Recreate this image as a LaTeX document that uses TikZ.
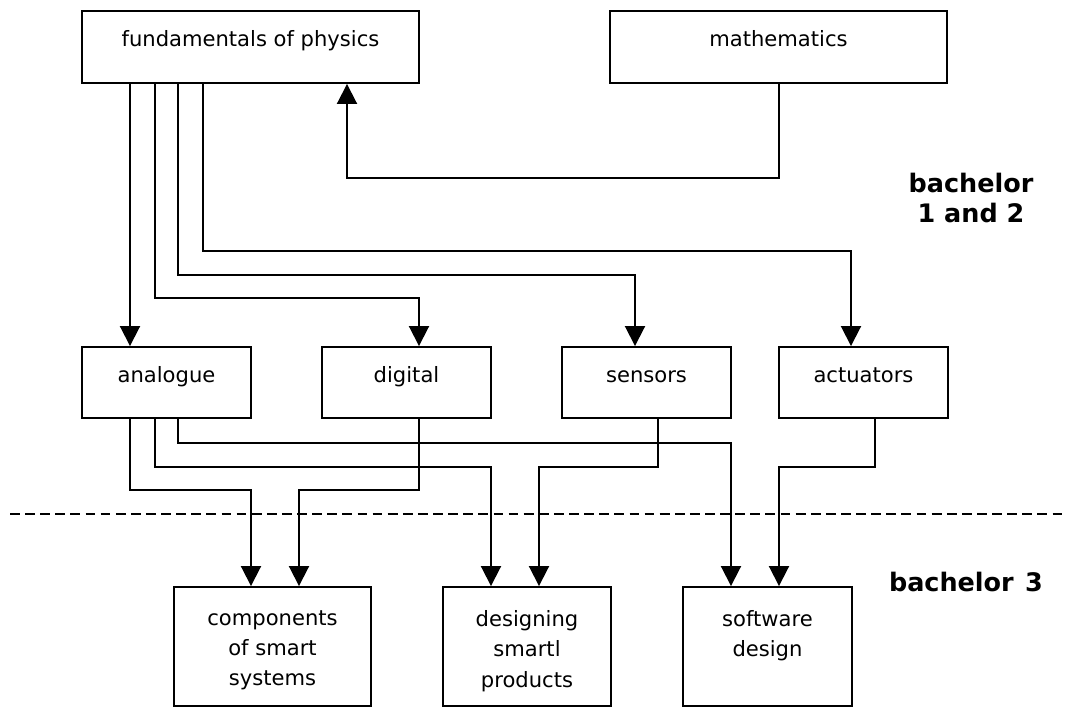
\documentclass[tikz,border=0pt]{standalone}
\usepackage{fontspec}
\setmainfont{DejaVu Sans}
\usepackage{tikz}
\usetikzlibrary{arrows.meta}

\begin{document}
\begin{tikzpicture}[x=0.02cm, y=-0.02cm,
		box/.style={draw, line width=1.1pt, inner sep=0pt},
		wide/.style={box, minimum width=6.74cm, minimum height=1.44cm},
		mid/.style={box, minimum width=3.38cm, minimum height=1.42cm},
		low/.style={box, minimum height=2.38cm},
		intext/.style={anchor=base, yshift=-0.73cm, inner sep=0pt, font=\fontsize{12}{17.3}\selectfont},
		lowtext/.style={anchor=north, yshift=-0.48cm, inner sep=0pt, align=center, font=\fontsize{12}{17.3}\selectfont},
		stage/.style={align=center, font=\bfseries\fontsize{14.5}{17.5}\selectfont},
		arr/.style={line width=1.1pt, -{Triangle[length=11.4pt,width=11.4pt]}}]
	\useasboundingbox (0,0) rectangle (1066,713);
	\node[wide, label={[intext]north:fundamentals of physics}] (phys) at (250.5,47) {};
	\node[wide, label={[intext]north:mathematics}] (math) at (778.5,47) {};
	\node[mid, label={[intext]north:analogue}] (ana) at (166.5,382.5) {};
	\node[mid, label={[intext]north:digital}] (dig) at (406.5,382.5) {};
	\node[mid, label={[intext]north:sensors}] (sens) at (646.5,382.5) {};
	\node[mid, label={[intext]north:actuators}] (act) at (863.5,382.5) {};
	\node[low, minimum width=3.94cm, label={[lowtext]north:components\\of smart\\systems}] (comp) at (272.5,646.5) {};
	\node[low, minimum width=3.36cm, label={[lowtext]north:designing\\smartl\\products}] (desg) at (527,646.5) {};
	\node[low, minimum width=3.38cm, label={[lowtext]north:software\\design}] (soft) at (767.5,646.5) {};
	\node[stage] (bach12) at (971,198) {bachelor\\1 and 2};
	\node[stage] (bach3) at (966,582) {bachelor\hspace{0.45em}3};
	\coordinate (cutL) at (10,514);
	\coordinate (cutR) at (1066,514);
	\draw[line width=1.1pt, dash pattern=on 5.6pt off 3pt] (cutL) -- (cutR);
	\draw[arr] (math.south -| 779,0) |- (347,178) -- (phys.south -| 347,0);
	\draw[arr] (phys.south -| 130,0) -- (ana.north -| 130,0);
	\draw[arr] (phys.south -| 155,0) |- (419,298) -- (dig.north -| 419,0);
	\draw[arr] (phys.south -| 178,0) |- (635,275) -- (sens.north -| 635,0);
	\draw[arr] (phys.south -| 203,0) |- (851,251) -- (act.north -| 851,0);
	\draw[arr] (ana.south -| 130,0) |- (251,490) -- (comp.north -| 251,0);
	\draw[arr] (ana.south -| 155,0) |- (491,467) -- (desg.north -| 491,0);
	\draw[arr] (ana.south -| 178,0) |- (731,443) -- (soft.north -| 731,0);
	\draw[arr] (dig.south -| 419,0) |- (299,490) -- (comp.north -| 299,0);
	\draw[arr] (sens.south -| 658,0) |- (539,467) -- (desg.north -| 539,0);
	\draw[arr] (act.south -| 875,0) |- (779,467) -- (soft.north -| 779,0);
\end{tikzpicture}
\end{document}
